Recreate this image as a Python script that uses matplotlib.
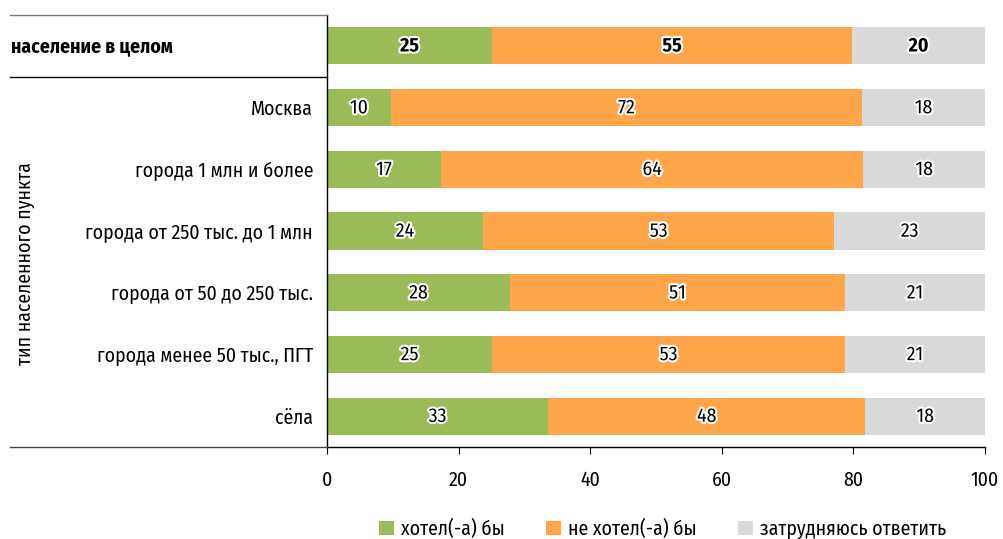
import matplotlib.pyplot as plt
import matplotlib.patheffects as pe
from matplotlib.lines import Line2D
import numpy as np

plt.rcParams['font.family'] = ['Fira Sans Condensed', 'DejaVu Sans']

# данные
categories = ['население в целом', 'Москва', 'города 1 млн и более',
              'города от 250 тыс. до 1 млн', 'города от 50 до 250 тыс.',
              'города менее 50 тыс., ПГТ', 'сёла']
yes_vals = [25.1, 9.7, 17.3, 23.7, 27.8, 25.1, 33.6]
no_vals = [54.7, 71.6, 64.2, 53.4, 50.9, 53.6, 48.2]
unsure_vals = [20.2, 18.7, 18.5, 22.9, 21.3, 21.3, 18.2]
yes_labels = [25, 10, 17, 24, 28, 25, 33]
no_labels = [55, 72, 64, 53, 51, 53, 48]
unsure_labels = [20, 18, 18, 23, 21, 21, 18]
series_names = ['хотел(-а) бы', 'не хотел(-а) бы', 'затрудняюсь ответить']
colors = ['#9BBB59', '#FFA54C', '#D9D9D9']

fs = 14.2

fig = plt.figure(figsize=(10.04, 5.39), dpi=100)
ax = fig.add_axes([0.3257, 0.1707, 0.6554, 0.8015])

y = np.arange(len(categories))
yes = np.array(yes_vals)
no = np.array(no_vals)
uns = np.array(unsure_vals)

bars1 = ax.barh(y, yes, height=0.6, color=colors[0], label=series_names[0])
bars2 = ax.barh(y, no, left=yes, height=0.6, color=colors[1], label=series_names[1])
bars3 = ax.barh(y, uns, left=yes + no, height=0.6, color=colors[2], label=series_names[2])

stroke = [pe.withStroke(linewidth=3, foreground='white')]
for i, (bars, labels) in enumerate([(bars1, yes_labels), (bars2, no_labels), (bars3, unsure_labels)]):
    for j, (b, lab) in enumerate(zip(bars, labels)):
        ax.text(b.get_x() + b.get_width() / 2, b.get_y() + b.get_height() / 2,
                str(lab), ha='center', va='center', fontsize=fs,
                fontweight='bold' if j == 0 else 'normal',
                color='black', path_effects=stroke)

ax.set_xlim(0, 100)
ax.set_ylim(6.5, -0.5)
ax.set_xticks([0, 20, 40, 60, 80, 100])
ax.tick_params(axis='x', labelsize=fs, length=5, direction='out', pad=12)
ax.set_yticks(y)
ax.set_yticklabels([''] + categories[1:], fontsize=fs)
ax.tick_params(axis='y', length=0, pad=10)

for s in ['top', 'right']:
    ax.spines[s].set_visible(False)
ax.spines['left'].set_linewidth(1)
ax.spines['bottom'].set_linewidth(1)

# заголовок первой строки слева
fig.text(11 / 1004, 1 - 47 / 539, categories[0], ha='left', va='center',
         fontsize=fs, fontweight='bold')

# линии слева от оси
fig.add_artist(Line2D([0.01, 0.3257], [0.9722, 0.9722], color='#777777', lw=1))
fig.add_artist(Line2D([0.01, 0.3257], [1 - 77 / 539, 1 - 77 / 539], color='black', lw=1))
fig.add_artist(Line2D([0.01, 0.3257], [0.1707, 0.1707], color='#444444', lw=1))

fig.text(0.025, 1 - 264 / 539, 'тип населенного пункта', rotation=90,
         ha='center', va='center', fontsize=fs)

ax.legend(loc='lower center', bbox_to_anchor=(0.51, -0.255), ncol=3, frameon=False,
          fontsize=fs, handlelength=0.75, handleheight=0.75, handletextpad=0.35,
          columnspacing=2.1)

fig.savefig('out.png', dpi=100)
